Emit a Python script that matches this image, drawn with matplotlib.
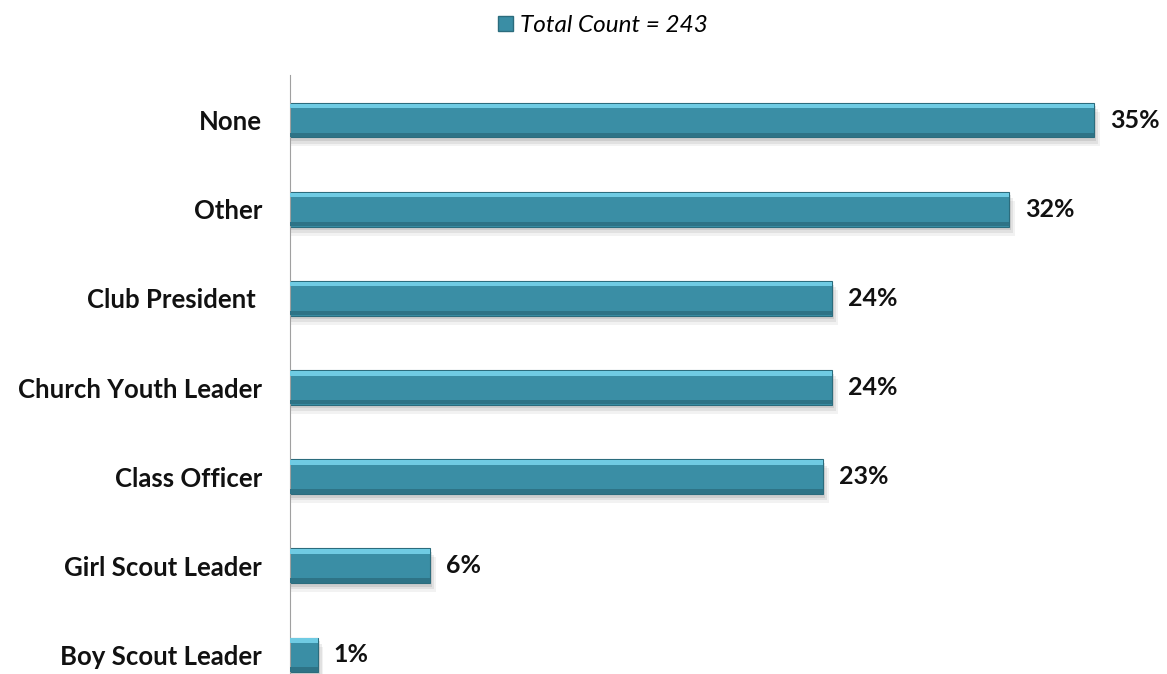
import numpy as np
import matplotlib.pyplot as plt
from matplotlib.patches import Patch

# Leadership roles - horizontal bar chart

categories = ['None', 'Other', 'Club President ', 'Church Youth Leader',
              'Class Officer', 'Girl Scout Leader', 'Boy Scout Leader']
values = [35.0, 31.3, 23.6, 23.6, 23.2, 6.1, 1.2]
value_labels = ['35%', '32%', '24%', '24%', '23%', '6%', '1%']
legend_label = 'Total Count = 243'

plt.rcParams['font.family'] = ['Lato', 'DejaVu Sans']

fig = plt.figure(figsize=(11.67, 6.74), dpi=100)
ax = fig.add_axes([290 / 1167, 0, 1 - 290 / 1167, 1 - 75 / 674])

y = np.arange(len(categories))
h = 0.39

# soft shadow below each bar
for k, a in [(0.10, 0.10), (0.07, 0.15), (0.04, 0.2)]:
    ax.barh(y + k, np.array(values) + k * 2.5, height=h, color='#808080',
            alpha=a, zorder=1)

bars = ax.barh(y, values, height=h, color='#3a8ea5', edgecolor='#2b6c7d',
               linewidth=0.8, zorder=2)
# bevel highlights
ax.barh(y - h / 2 + 0.035, values, height=0.05, color='#6fcbe3', zorder=3)
ax.barh(y + h / 2 - 0.03, values, height=0.05, color='#2e7386', zorder=3)

for yi, v, lab in zip(y, values, value_labels):
    ax.text(v + 0.7, yi, lab, va='center', ha='left', fontsize=18,
            fontweight='bold', color='#111111')

ax.set_yticks(y)
ax.set_yticklabels(categories, fontsize=18.5, fontweight='bold', color='#111111')
ax.tick_params(axis='y', length=0, pad=20)
ax.set_xticks([])
ax.set_xlim(0, 38.18)
ax.set_ylim(6 + 19 / 89, -0.506)

for s in ['top', 'right', 'bottom']:
    ax.spines[s].set_visible(False)
ax.spines['left'].set_color('#a0a0a0')

handle = Patch(facecolor='#3a8ea5', edgecolor='#2b6c7d')
fig.legend([handle], [legend_label], loc='upper center',
           bbox_to_anchor=(0.517, 1.01), frameon=False,
           prop={'style': 'italic', 'size': 17.5}, handlelength=0.6,
           handleheight=0.6, handletextpad=0.3)

fig.savefig('out.png', dpi=100)
